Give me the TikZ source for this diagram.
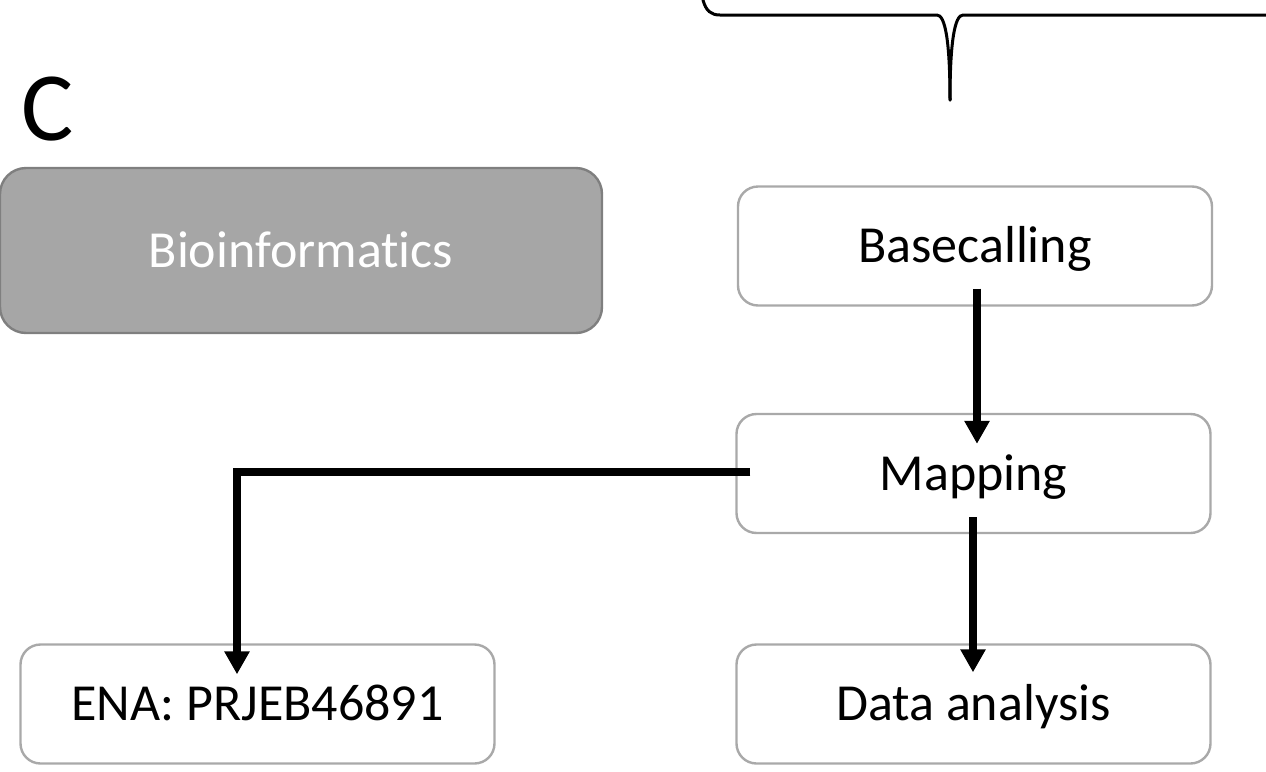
\documentclass[tikz,border=0pt]{standalone}
\usepackage{fontspec}
\setmainfont{Carlito}[Ligatures=NoCommon]
\usetikzlibrary{arrows.meta,calc}
\definecolor{bioFill}{HTML}{A6A6A6}
\definecolor{bioEdge}{HTML}{7F7F7F}
\definecolor{boxEdge}{HTML}{A9A9A9}
\begin{document}
\begin{tikzpicture}[x=0.5pt,y=-0.5pt,
  stepbox/.style={draw=boxEdge, line width=1.2pt, rounded corners=10pt, fill=white,
    minimum width=237pt, minimum height=59.5pt, inner sep=0pt,
    font=\fontsize{26}{31}\selectfont, text=black, text height=16.7pt, text depth=0pt},
  biobox/.style={stepbox, draw=bioEdge, fill=bioFill, text=white, rounded corners=13pt,
    minimum width=301pt, minimum height=82.5pt},
  flow/.style={line width=4pt, -{Triangle[length=11.5pt,width=12pt]}},
  bracepath/.style={line width=1.5pt, line cap=round}]
\useasboundingbox (0,0) rectangle (1266,772);
\node[anchor=base west, font=\fontsize{49}{56}\selectfont, inner sep=0pt] (lbl) at (21,140) {C};
\node[biobox] (bio) at (301,250.5) {Bioinformatics};
\node[stepbox] (bc) at (975,246) {Basecalling};
\node[stepbox] (map) at (973.5,473.5) {Mapping};
\node[stepbox] (ena) at (257.5,704) {ENA: PRJEB46891};
\node[stepbox] (da) at (973.5,704) {Data analysis};
% brace
\coordinate (bl) at (703,0);
\coordinate (br) at (1266,15);
\coordinate (bt) at (950,100);
\draw[bracepath] (bl) .. controls (706,11) and (711,15) .. (720,15) -- (937,15)
  .. controls (945,15) and (950,40) .. (bt);
\draw[bracepath] (bt) .. controls (950,40) and (955,15) .. (963,15) -- (br);
% arrows
\draw[flow] ($(bc.south)+(2,-18)$) -- ($(map.north)+(3.5,31)$);
\draw[flow] ($(map.south)+(-0.5,-17)$) -- ($(da.north)+(-0.5,29)$);
\draw[flow] ($(map.west)+(15,-1.5)$) -| ($(ena.north)+(-20.5,31)$);
\end{tikzpicture}
\end{document}
